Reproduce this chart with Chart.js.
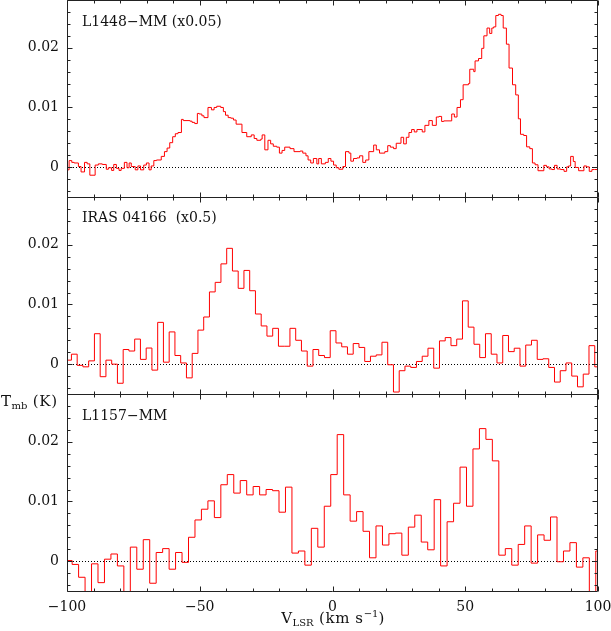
<!DOCTYPE html>
<html><head><meta charset="utf-8">
<script src="https://cdn.jsdelivr.net/npm/chart.js@4.4.0/dist/chart.umd.min.js"></script>
<style>
html,body{margin:0;padding:0;background:#fff;}
#wrap{position:relative;width:611px;height:631px;overflow:hidden;background:#fff;}
#c{position:absolute;left:0;top:0;}
.t{position:absolute;font-family:'DejaVu Serif',serif;font-size:14px;line-height:16px;color:#111;white-space:pre;}
.ax{font-size:15px;letter-spacing:0.6px;}
.sub{font-size:10px;position:relative;top:3px;letter-spacing:0;}
.sup{font-size:10px;position:relative;top:-6px;letter-spacing:0;}
</style></head><body>
<div id="wrap">
<canvas id="c" width="611" height="631"></canvas>
<div class="t" style="left:82px;top:13px">L1448−MM (x0.05)</div>
<div class="t" style="left:82px;top:209px">IRAS 04166  (x0.5)</div>
<div class="t" style="left:82px;top:407px">L1157−MM</div>
<div class="t ax" style="left:1px;top:393px">T<span class="sub">mb</span> (K)</div>
<div class="t ax" style="left:223px;top:610px;width:220px;text-align:center">V<span class="sub">LSR</span> (km s<span class="sup">−1</span>)</div>
</div>
<script>
// ---- data (velocities in km/s, intensities in units of 1e-3 K) ----
const panelNames = ['L1448-MM (x0.05)', 'IRAS 04166 (x0.5)', 'L1157-MM'];

// L1448-MM: channel start velocities and values (last entry closes the final channel)
const l1448Vel = [-100.2,-99.2,-98.2,-97.3,-95.7,-94.7,-93.4,-92.4,-91.4,-89.4,-88.2,-86.7,-85.2,-84.4,-83.2,-82.4,-81.4,-80.4,-79.6,-78.4,-77.4,-76.6,-75.8,-74.3,-73.3,-72.3,-71.1,-70.1,-69.1,-68.3,-67.3,-66.3,-64.5,-63.3,-62.3,-61.3,-60.2,-59.2,-58.2,-56.9,-56.2,-53.7,-52.9,-51.9,-50.9,-50.2,-49.2,-48.4,-46.9,-45.6,-44.6,-43.6,-42.1,-41.1,-40.3,-39.3,-38.3,-37.3,-36.3,
 -34.1,-32.3,-30.6,-29.5,-28.5,-27.0,-26.5,-25.5,-24.3,-23.3,-22.3,-21.0,-20.0,-19.0,-18.0,-16.0,-14.5,-12.2,-11.2,-10.0,-9.2,-8.2,-7.2,-5.9,-5.2,-4.2,-2.7,-1.6,-0.6,0.4,1.4,2.4,3.9,4.9,6.2,6.9,7.9,9.2,10.2,11.4,12.5,13.7,15.5,16.5,17.7,19.7,20.8,21.8,23.0,24.0,25.8,26.8,27.8,28.8,29.8,30.8,31.8,33.8,34.8,36.3,
 37.6,39.1,40.1,41.1,41.9,44.9,45.9,46.9,48.2,49.2,51.2,51.7,53.2,53.7,55.0,56.2,57.0,58.2,59.2,60.0,60.7,61.5,62.5,63.5,64.3,65.5,66.5,67.8,69.0,70.0,70.8,72.0,73.1,74.3,75.3,76.3,77.4,79.6,80.6,81.6,82.6,83.6,84.6,85.9,87.2,88.2,88.9,89.7,90.7,91.4,92.7,94.7,95.7,96.7,97.7,98.7,100.1];
const l1448Val = [-0.45,1.1,0.8,0.7,0.1,-0.8,0.8,0.55,-1.35,0.35,0.55,0.45,-0.35,-0.1,-0.55,0.45,-0.2,-0.55,-0.2,0.8,-0.1,0.7,0.1,-0.45,0.2,-0.45,0.35,0.7,-0.45,0.2,1.1,1.2,1.8,2.6,3.2,4.1,5.1,5.6,5.8,8.0,7.8,7.7,7.5,7.3,9.0,8.9,8.6,8.3,10.0,9.6,10.0,10.2,10.0,9.3,8.7,8.3,8.2,7.9,7.2,
 5.8,5.1,5.4,4.8,4.5,4.7,5.4,2.9,4.5,3.9,3.5,3.35,2.35,2.8,3.35,3.1,2.6,2.7,2.35,1.9,1.2,0.7,1.45,0.55,1.45,0.55,0.8,1.45,1.0,0.35,-0.1,-0.35,0.1,2.6,2.35,1.0,1.45,1.55,1.9,0.8,1.2,2.6,3.7,2.9,2.35,2.6,3.6,3.35,3.1,4.0,5.0,3.9,5.0,5.8,6.3,5.9,6.3,5.9,7.0,7.8,
 7.0,8.4,8.5,7.65,7.75,8.9,8.4,10.0,11.3,13.8,14.0,16.4,16.0,17.8,18.2,19.9,22.0,23.3,22.4,23.3,23.5,25.4,25.6,25.4,23.3,20.6,16.6,13.8,12.1,8.1,5.5,5.3,3.4,3.1,0.7,0.4,-0.6,0.3,0.05,-0.3,-0.4,0.3,-0.3,-0.4,-0.7,0.05,0.2,1.8,0.95,-0.05,-0.6,0.2,0.05,-0.7,-0.4,-0.4,-0.4];

// IRAS 04166: uniform channels
const irasStart = -100.5, irasWidth = 2.166;
const irasVal = [0.67,1.67,-0.2,-0.45,0.55,5.1,-2.1,0.67,0,-3.2,2.45,2.2,4.2,0.8,2.7,-1.0,7.0,0.33,5.4,1.45,0.2,-2.3,1.8,5.7,7.9,12.1,13.7,16.8,19.4,15.6,12.7,15.7,12.3,8.4,6.4,4.7,6.0,3.0,3.0,6.0,4.0,2.2,-0.33,2.45,1.45,1.1,
 5.6,3.55,2.9,1.67,3.45,2.8,0.45,1.33,1.55,3.67,-0.1,-4.67,-1.1,-0.33,-0.55,0.45,1.33,2.67,-0.67,3.9,4.45,3.1,4.2,10.6,6.2,3.33,1.1,5.1,1.67,0.2,4.8,2.1,2.67,-0.33,3.2,4.0,0.8,0.9,-0.55,-3.0,-1.1,0.2,-2.0,-3.8,-1.67,3.1,-0.45];

// L1157-MM: uniform channels
const l1157Start = -100.5, l1157Width = 2.435;
const l1157Val = [0.1,-0.55,-2.7,-6,-0.45,-3.6,0.33,1.2,-0.8,-6,2.35,-1.35,3.6,-3.7,1.45,2.1,-1.35,1.45,-0.2,4.0,
 6.9,8.7,10.1,7.3,12.8,14.5,11.4,13.5,11.1,12.5,11.1,12.0,11.8,8.2,12.4,1.35,1.7,-0.67,5.5,2.35,
 9.2,14.5,21.2,11.1,6.7,8.3,5.0,0.56,5.9,2.7,4.6,4.7,1.0,5.7,7.7,3.2,1.9,10.3,-0.8,6.6,
 9.7,15.75,9.2,18.8,22.2,20.4,16.8,1.0,2.1,-0.67,2.8,5.9,-0.33,4.4,3.5,7.4,-0.1,1.7,3.1,-1.0,0.56,-6,1.7];

const xTickValues = [-100, -50, 0, 50, 100];
const yTickValues = [0, 0.01, 0.02];
const yMin = -0.005, yMax = 0.028;
const xMin = -100, xMax = 100;

// ---- build series ----
const mK = 1e-3;
function fromArrays(vel, val) {
  return vel.map((v, i) => ({x: v, y: val[i] * mK}));
}
function fromUniform(start, width, val) {
  const pts = val.map((y, i) => ({x: start + i * width, y: y * mK}));
  pts.push({x: start + val.length * width, y: val[val.length - 1] * mK});
  return pts;
}
const series = [
  fromArrays(l1448Vel, l1448Val),
  fromUniform(irasStart, irasWidth, irasVal),
  fromUniform(l1157Start, l1157Width, l1157Val)
];
const axisIds = ['y1', 'y2', 'y3'];   // top, middle, bottom panel

const FONT = {family: "'DejaVu Serif', serif", size: 14};
const INK = '#111';

function yAxis() {
  return {
    type: 'linear', position: 'left', stack: 'panels', stackWeight: 1, offset: false,
    min: yMin, max: yMax,
    afterFit: s => { s.width = 67; s.paddingTop = 0; s.paddingBottom = 0; },
    afterBuildTicks: s => { s.ticks = yTickValues.map(v => ({value: v})); },
    ticks: {
      font: FONT, color: INK, padding: 8,
      callback: v => Math.abs(v) < 1e-12 ? '0' : v.toFixed(2)
    },
    grid: {display: false, drawTicks: false},
    border: {display: false}
  };
}

const framePlugin = {
  id: 'frames',
  beforeDatasetsDraw(chart) {
    const ctx = chart.ctx, xs = chart.scales.x;
    ctx.save();
    ctx.strokeStyle = '#000';
    ctx.lineWidth = 1;
    ctx.setLineDash([1, 2]);
    for (const id of axisIds) {
      const ys = chart.scales[id];
      const y = Math.round(ys.getPixelForValue(0)) + 0.5;
      ctx.beginPath(); ctx.moveTo(xs.left, y); ctx.lineTo(xs.right, y); ctx.stroke();
    }
    ctx.restore();
  },
  afterDatasetsDraw(chart) {
    const ctx = chart.ctx, xs = chart.scales.x;
    ctx.save();
    ctx.strokeStyle = '#222';
    ctx.lineWidth = 1;
    const L = Math.round(xs.left) + 0.5, R = Math.round(xs.right) - 0.5;
    for (const id of axisIds) {
      const ys = chart.scales[id];
      const T = Math.round(ys.top) + 0.5, B = Math.round(ys.bottom) + 0.5;
      ctx.beginPath();
      ctx.rect(L, T, R - L, B - T);
      // x ticks (inward, top and bottom of each panel)
      for (let v = xMin; v <= xMax; v += 10) {
        const px = Math.round(xs.getPixelForValue(v)) + 0.5;
        const len = (v % 50 === 0) ? 5 : 3;
        ctx.moveTo(px, T); ctx.lineTo(px, T + len);
        ctx.moveTo(px, B); ctx.lineTo(px, B - len);
      }
      // y ticks (inward, left and right)
      for (let k = -2; k <= 14; k++) {
        const v = k * 0.002;
        if (v < yMin || v > yMax) continue;
        const py = Math.round(ys.getPixelForValue(v)) + 0.5;
        const len = (k % 5 === 0) ? 5 : 3;
        ctx.moveTo(L, py); ctx.lineTo(L + len, py);
        ctx.moveTo(R, py); ctx.lineTo(R - len, py);
      }
      ctx.stroke();
    }
    ctx.restore();
  }
};

const scales = {
  x: {
    type: 'linear', position: 'bottom', min: xMin, max: xMax,
    afterFit: s => { s.height = 40; s.paddingLeft = 0; s.paddingRight = 0; },
    afterBuildTicks: s => { s.ticks = xTickValues.map(v => ({value: v})); },
    ticks: {
      font: FONT, color: INK, padding: 8, maxRotation: 0, autoSkip: false,
      callback: v => v < 0 ? '\u2212' + Math.abs(v) : String(v)
    },
    grid: {display: false, drawTicks: false},
    border: {display: false}
  }
};
// stacked left axes are laid out from the last-defined one at the top
axisIds.slice().reverse().forEach(id => { scales[id] = yAxis(); });

new Chart(document.getElementById('c'), {
  type: 'line',
  data: {
    datasets: series.map((pts, i) => ({
      label: panelNames[i],
      data: pts,
      yAxisID: axisIds[i],
      stepped: 'before',   // each channel value holds from its start velocity to the next one
      borderColor: 'rgb(255,0,0)',
      borderWidth: 1,
      pointRadius: 0,
      fill: false,
      tension: 0
    }))
  },
  options: {
    responsive: false,
    animation: false,
    devicePixelRatio: 1,
    parsing: false,
    normalized: true,
    layout: {padding: {left: 0, right: 13, top: 0, bottom: 0}},
    plugins: {legend: {display: false}, tooltip: {enabled: false}, title: {display: false}},
    scales
  },
  plugins: [framePlugin]
});
</script>
</body></html>
